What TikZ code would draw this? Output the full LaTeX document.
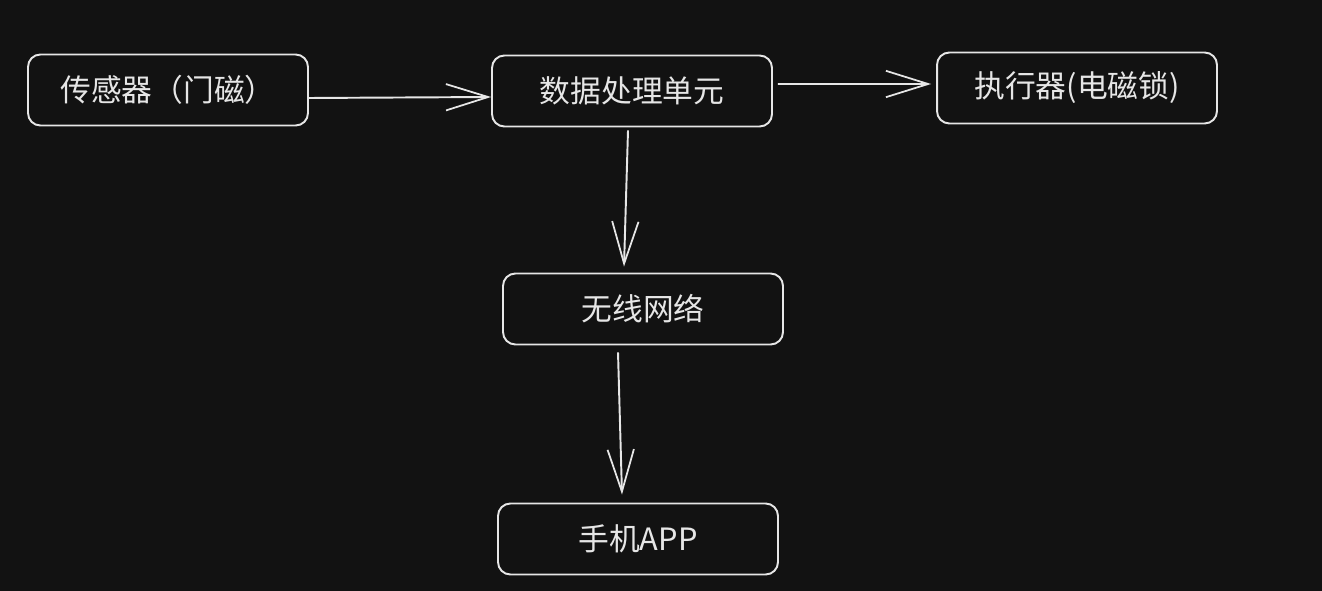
\documentclass[tikz,border=0pt]{standalone}
\usepackage{fontspec}
\newfontfamily\cjk{Noto Sans CJK SC}
\usepackage{tikz}
\usetikzlibrary{arrows.meta,positioning,calc}
\usepackage{xcolor}
\definecolor{BgDark}{HTML}{121212}
\definecolor{InkLight}{HTML}{E6E6E6}

\begin{document}
\begin{tikzpicture}[
  x=0.02cm,y=-0.02cm,
  blk/.style={draw=InkLight,line width=1.1pt,rounded corners=7pt,
              minimum width=5.6cm,minimum height=1.42cm,
              text=InkLight,font=\cjk\fontsize{17.5}{20}\selectfont},
  arr/.style={-{Straight Barb[length=24pt,width=15pt,line width=1pt]},
              InkLight,line width=1.1pt},
]
\fill[BgDark] (0,0) rectangle (1322,591);
\useasboundingbox (0,0) rectangle (1322,591);
\node[blk] (sensor) at (168,90) {传感器（门磁）};
\node[blk] (data) at (632,91) {数据处理单元};
\node[blk] (actor) at (1077,88) {执行器(电磁锁)};
\node[blk] (wless) at (643,309) {无线网络};
\node[blk] (phone) at (638,539) {手机APP};
\draw[arr] ([yshift=-0.16cm]sensor.east) -- ([yshift=-0.12cm]data.west);
\draw[arr] ([xshift=0.1cm,yshift=0.14cm]data.east) -- ([xshift=-0.1cm,yshift=0.08cm]actor.west);
\draw[arr] ([xshift=-0.08cm,yshift=-0.06cm]data.south) -- ([xshift=-0.38cm,yshift=0.12cm]wless.north);
\draw[arr] ([xshift=-0.5cm,yshift=-0.14cm]wless.south) -- ([xshift=-0.32cm,yshift=0.16cm]phone.north);
\end{tikzpicture}
\end{document}
